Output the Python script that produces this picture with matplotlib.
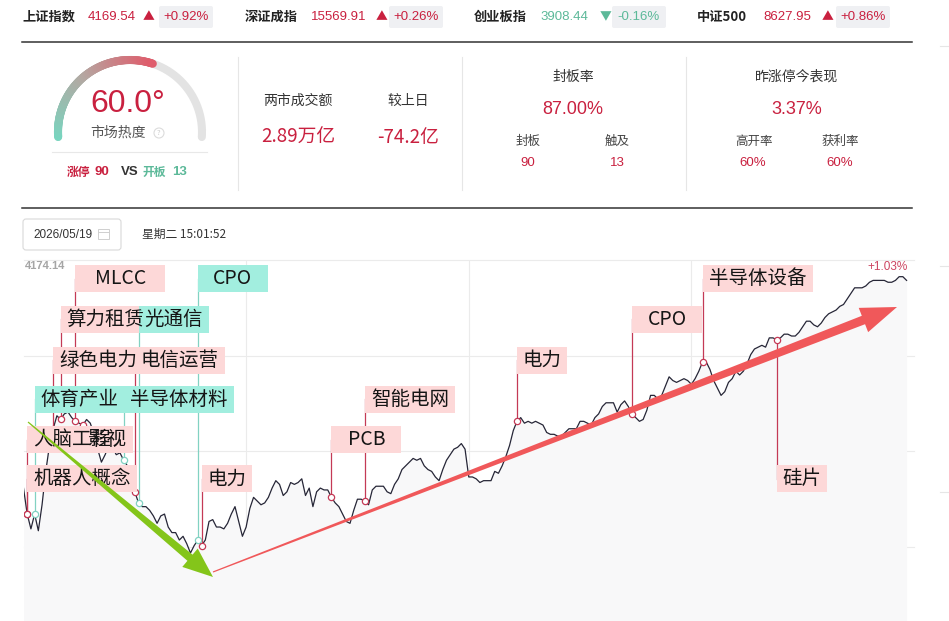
import numpy as np
import matplotlib
matplotlib.use('Agg')
import matplotlib.pyplot as plt
from matplotlib.patches import Rectangle, FancyBboxPatch, Polygon, Circle
from matplotlib.collections import LineCollection
from matplotlib.colors import LinearSegmentedColormap

plt.rcParams['font.family'] = ['Noto Sans CJK SC', 'DejaVu Sans']
NUM = ['Liberation Sans', 'Noto Sans CJK SC', 'DejaVu Sans']

RED = '#c9203f'
TEAL = '#5cb999'

# ---- index strip ----
index_names = ['上证指数', '深证成指', '创业板指', '中证500']
index_values = [4169.54, 15569.91, 3908.44, 8627.95]
index_changes = [0.92, 0.26, -0.16, 0.86]

# ---- summary panels ----
heat = 60.0
limit_up, opened = 90, 13
turnover = '2.89万亿'
turnover_diff = '-74.2亿'
seal_rate = 87.00
seal_count, touch_count = 90, 13
yest_perf = 3.37
high_open_rate, profit_rate = 60, 60
trade_date = '2026/05/19'
trade_time = '星期二 15:01:52'

# ---- intraday line (pct change vs prev close, one point per minute) ----
axis_top = 4174.14
axis_pct = 1.03
pct = [-0.20, -0.34, -0.42, -0.34, -0.43, -0.29, -0.11, 0.03, 0.12, 0.19,
       0.17, 0.20, 0.21, 0.18, 0.16, 0.15, 0.14, 0.17, 0.15, 0.09,
       0.01, -0.06, -0.02, 0.03, 0.02, -0.02, -0.01, -0.05, -0.08, -0.13,
       -0.22, -0.28, -0.30, -0.30, -0.32, -0.35, -0.39, -0.35, -0.34, -0.41,
       -0.44, -0.44, -0.48, -0.46, -0.50, -0.55, -0.51, -0.48, -0.51, -0.48,
       -0.38, -0.37, -0.41, -0.41, -0.42, -0.39, -0.34, -0.30, -0.38, -0.46,
       -0.41, -0.31, -0.25, -0.27, -0.29, -0.28, -0.25, -0.20, -0.16, -0.18,
       -0.24, -0.22, -0.17, -0.18, -0.17, -0.15, -0.24, -0.20, -0.30, -0.22,
       -0.20, -0.21, -0.21, -0.25, -0.28, -0.30, -0.34, -0.38, -0.39, -0.32,
       -0.26, -0.26, -0.27, -0.29, -0.21, -0.19, -0.19, -0.19, -0.22, -0.23,
       -0.18, -0.15, -0.10, -0.08, -0.06, -0.04, -0.05, -0.04, -0.08, -0.10,
       -0.11, -0.14, -0.16, -0.10, -0.05, -0.02, 0.01, 0.02, 0.04, 0.01,
       -0.14, -0.14, -0.15, -0.17, -0.16, -0.16, -0.16, -0.11, -0.12, -0.08,
       -0.03, 0.03, 0.11, 0.16, 0.18, 0.15, 0.16, 0.15, 0.16, 0.15,
       0.14, 0.10, 0.09, 0.09, 0.08, 0.08, 0.10, 0.12, 0.12, 0.12,
       0.16, 0.16, 0.15, 0.14, 0.18, 0.20, 0.24, 0.26, 0.26, 0.26,
       0.21, 0.25, 0.27, 0.24, 0.20, 0.18, 0.16, 0.17, 0.22, 0.30,
       0.30, 0.28, 0.30, 0.35, 0.40, 0.38, 0.37, 0.38, 0.39, 0.38,
       0.36, 0.39, 0.43, 0.48, 0.48, 0.44, 0.38, 0.34, 0.30, 0.32,
       0.37, 0.39, 0.43, 0.41, 0.43, 0.47, 0.52, 0.55, 0.56, 0.57,
       0.56, 0.61, 0.61, 0.60, 0.61, 0.63, 0.63, 0.62, 0.62, 0.64,
       0.67, 0.70, 0.70, 0.68, 0.67, 0.69, 0.72, 0.74, 0.75, 0.76,
       0.78, 0.79, 0.82, 0.85, 0.88, 0.88, 0.88, 0.89, 0.91, 0.92,
       0.92, 0.92, 0.92, 0.91, 0.91, 0.92, 0.94, 0.94, 0.92]
minutes = np.arange(len(pct))

# ---- sector tags on the line ----
tag_text = ['人脑工程', '影视', '机器人概念', '体育产业', '绿色电力', '算力租赁', 'MLCC',
            '半导体材料', '电信运营', '光通信', 'CPO', '电力', 'PCB', '智能电网',
            '电力', 'CPO', '半导体设备', '硅片']
tag_minute = [1, 16, 1, 3, 8, 10, 14, 27, 30, 31, 47, 48, 83, 92, 133, 164, 183, 203]
tag_level = [0.06, 0.06, -0.15, 0.28, 0.49, 0.71, 0.93, 0.28, 0.49, 0.71, 0.93,
             -0.15, 0.06, 0.28, 0.49, 0.71, 0.93, -0.15]
tag_up = [True, True, True, False, True, True, True, False, True, False, False,
          True, True, True, True, True, True, True]

W, H = 949, 621
fig = plt.figure(figsize=(W / 100, H / 100), dpi=100)

# ---------- chart ----------
x0, x1, ytop, ybot = 23.5, 914, 260, 642
ax = fig.add_axes([x0 / W, 1 - ybot / H, (x1 - x0) / W, (ybot - ytop) / H])
ax.set_xlim(0, 240)
ax.set_ylim(-axis_pct, axis_pct)
ax.axis('off')
for yv in [axis_pct, axis_pct / 2, 0, -axis_pct / 2]:
    ax.axhline(yv, color='#ebebeb', lw=0.8, zorder=0, clip_on=False)
for xv in [60, 120, 180]:
    ax.axvline(xv, color='#ebebeb', lw=0.8, zorder=0)
ax.fill_between(minutes, pct, -axis_pct, color='#f8f8f9', lw=0, zorder=1)
ax.plot(minutes, pct, color='#262637', lw=0.9, zorder=3)

ppm = (x1 - x0) / 240
ppp = (ybot - ytop) / (2 * axis_pct)
for txt, m, lvl, up in zip(tag_text, tag_minute, tag_level, tag_up):
    lc_ = '#c43a56' if up else '#82d2c2'
    face = '#fdd8d8' if up else '#a2eedf'
    ax.plot([m, m], [pct[m], lvl], color=lc_, lw=0.9, zorder=4)
    ax.plot(m, pct[m], 'o', ms=4.5, mfc='white', mec=lc_, mew=0.9, zorder=5)
    w = (20 * len(txt) + 10) / ppm
    h = 27 / ppp
    ax.add_patch(Rectangle((m, lvl - h / 2), w, h, facecolor=face,
                           edgecolor='none', zorder=6))
    ax.text(m + w / 2, lvl, txt, ha='center', va='center', fontsize=14,
            color='#151515', zorder=7)

# ---------- dashboard canvas (pixel coordinates) ----------
cv = fig.add_axes([0, 0, 1, 1], zorder=10)
cv.set_xlim(0, W)
cv.set_ylim(H, 0)
cv.axis('off')

name_x = [22, 245, 474, 697]
arrow_x = [143, 376, 600, 822]
box_x = [159, 389, 612, 836]
for nx, name, val, chg, axx, bx in zip(name_x, index_names, index_values,
                                       index_changes, arrow_x, box_x):
    col = RED if chg >= 0 else TEAL
    cv.text(nx, 17, name, fontsize=9.5, weight='bold', color='#222', va='center')
    cv.text(nx + 66, 17, f'{val:.2f}', fontsize=9.5, color=col, va='center', family=NUM)
    cv.text(axx, 17, '▲' if chg >= 0 else '▼', fontsize=8.5, color=col, va='center')
    cv.add_patch(FancyBboxPatch((bx, 6), 54, 22, boxstyle='round,pad=0,rounding_size=2',
                                fc='#eff0f3', ec='none'))
    cv.text(bx + 27, 17, f'{chg:+.2f}%', fontsize=9.5, color=col, ha='center',
            va='center', family=NUM)

cv.plot([22, 912], [41.5, 41.5], color='#333', lw=1.1)
cv.plot([22, 912], [208, 208], color='#333', lw=1.1)
for xs in [238, 462, 686]:
    cv.plot([xs, xs], [57, 190], color='#e6e6e6', lw=0.8)
for ys in [46, 266, 492]:
    cv.plot([940, 949], [ys, ys], color='#e6e6e6', lw=0.8)

# gauge
gcx, gcy, R = 130, 132, 72
theta = np.radians(np.linspace(184, -4, 240))
gx = gcx + R * np.cos(theta)
gy = gcy - R * np.sin(theta)
cv.plot(gx, gy, color='#e3e3e3', lw=5.8, solid_capstyle='round')
n = int(len(theta) * heat / 100)
pts = np.column_stack([gx[:n], gy[:n]])
segs = np.stack([pts[:-1], pts[1:]], axis=1)
cmap = LinearSegmentedColormap.from_list('heat', ['#78d6c0', '#b5a8a2', '#df5d6c'])
cv.add_collection(LineCollection(segs, colors=cmap(np.linspace(0, 1, len(segs))),
                                 lw=5.8, capstyle='round'))
cv.text(128, 112, f'{heat:.1f}°', fontsize=23, color=RED, ha='center', va='baseline',
        family=NUM)
cv.text(118, 133, '市场热度', fontsize=10, color='#555', ha='center', va='center')
cv.add_patch(Circle((159, 133), 5, fill=False, ec='#dcdcdc', lw=0.8))
cv.text(159, 133, '?', fontsize=5.5, color='#ccc', ha='center', va='center')
cv.plot([52, 207], [152, 152], color='#e8e8e8', lw=0.8)
cv.text(67, 172, '涨停', fontsize=8.5, weight='bold', color=RED, va='center')
cv.text(95, 172, f'{limit_up}', fontsize=9.5, weight='bold', color=RED, va='center', family=NUM)
cv.text(121, 172, 'VS', fontsize=9.5, weight='bold', color='#333', va='center', family=NUM)
cv.text(143, 172, '开板', fontsize=8.5, weight='bold', color=TEAL, va='center')
cv.text(172, 172, f'{opened}', fontsize=9.5, weight='bold', color=TEAL, va='center', family=NUM)

# turnover panel
cv.text(298, 101, '两市成交额', fontsize=10, color='#333', ha='center', va='center')
cv.text(408, 101, '较上日', fontsize=10, color='#333', ha='center', va='center')
cv.text(298, 137, turnover, fontsize=13.5, color=RED, ha='center', va='center')
cv.text(408, 137, turnover_diff, fontsize=13.5, color=RED, ha='center', va='center')

# seal rate panel
cv.text(573, 77, '封板率', fontsize=10, color='#333', ha='center', va='center')
cv.text(573, 109, f'{seal_rate:.2f}%', fontsize=13, color=RED, ha='center', va='center', family=NUM)
cv.text(528, 141, '封板', fontsize=9, color='#444', ha='center', va='center')
cv.text(617, 141, '触及', fontsize=9, color='#444', ha='center', va='center')
cv.text(528, 163, f'{seal_count}', fontsize=9.5, color=RED, ha='center', va='center', family=NUM)
cv.text(617, 163, f'{touch_count}', fontsize=9.5, color=RED, ha='center', va='center', family=NUM)

# yesterday limit-up panel
cv.text(797, 77, '昨涨停今表现', fontsize=10, color='#333', ha='center', va='center')
cv.text(797, 109, f'{yest_perf:.2f}%', fontsize=13, color=RED, ha='center', va='center', family=NUM)
cv.text(754, 141, '高开率', fontsize=9, color='#444', ha='center', va='center')
cv.text(840, 141, '获利率', fontsize=9, color='#444', ha='center', va='center')
cv.text(753, 163, f'{high_open_rate}%', fontsize=9.5, color=RED, ha='center', va='center', family=NUM)
cv.text(840, 163, f'{profit_rate}%', fontsize=9.5, color=RED, ha='center', va='center', family=NUM)

# date selector
cv.add_patch(FancyBboxPatch((23, 219), 98, 31, boxstyle='round,pad=0,rounding_size=3',
                            fc='white', ec='#d9d9d9', lw=0.8))
cv.text(33, 235, trade_date, fontsize=8.5, color='#333', va='center', family=NUM)
cv.add_patch(Rectangle((98, 229), 11, 10, fill=False, ec='#cfcfcf', lw=0.7))
cv.plot([98, 109], [232, 232], color='#cfcfcf', lw=0.7)
cv.text(142, 234, trade_time, fontsize=8.5, color='#333', va='center')

cv.text(25, 266, f'{axis_top:.2f}', fontsize=8, color='#a5a5a5', weight='bold',
        va='center', family=NUM)
cv.text(908, 267, f'+{axis_pct:.2f}%', fontsize=8.5, color='#cc4460', ha='right',
        va='center', family=NUM)


def taper_arrow(sx, sy, tx, ty, w0, w1, hw, hl, color):
    S = np.array([sx, sy], float)
    T = np.array([tx, ty], float)
    u = (T - S) / np.hypot(*(T - S))
    nrm = np.array([-u[1], u[0]])
    B = T - u * hl
    poly = [S + nrm * w0 / 2, B + nrm * w1 / 2, B + nrm * hw / 2, T,
            B - nrm * hw / 2, B - nrm * w1 / 2, S - nrm * w0 / 2]
    cv.add_patch(Polygon(poly, closed=True, fc=color, ec='none', zorder=20))


taper_arrow(28, 422, 213, 577, 1.2, 8, 24, 30, '#84c51a')
taper_arrow(213, 572, 897, 307, 1.2, 9, 26, 36, '#f0585a')

fig.savefig('out.png', dpi=100)
